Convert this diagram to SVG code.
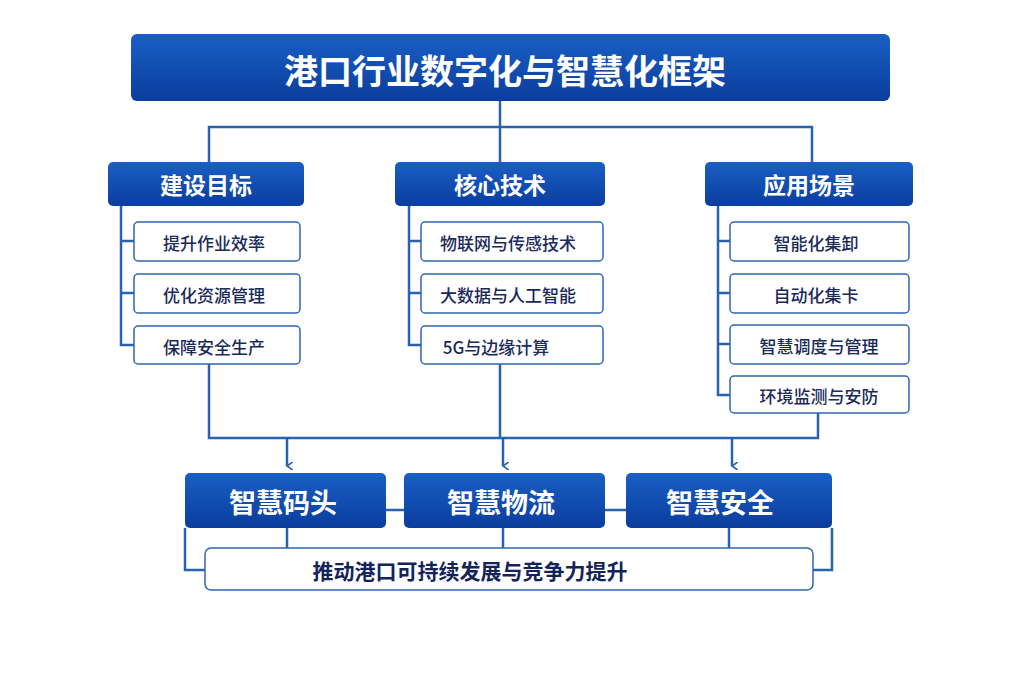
<svg xmlns="http://www.w3.org/2000/svg" width="1024" height="683" viewBox="0 0 1024 683">
<defs>
<linearGradient id="bg" x1="0" y1="0" x2="0" y2="1"><stop offset="0" stop-color="#1a5fc4"/><stop offset="1" stop-color="#0a3d9e"/></linearGradient>
<marker id="ar" viewBox="0 0 10 10" refX="5" refY="9" markerWidth="8" markerHeight="8" orient="auto-start-reverse" markerUnits="userSpaceOnUse"><path d="M0,2 L5,9 L10,2" fill="none" stroke="#2a62ad" stroke-width="2"/></marker>
</defs>
<style>
.b{fill:url(#bg)}
.w{fill:#fff;stroke:#2f66b0;stroke-width:1.5}
.t{font-family:"Noto Sans CJK SC","Noto Sans",sans-serif;text-anchor:middle;dominant-baseline:central}
.h{fill:#fff;font-weight:700}
.s{fill:#1a2a5a;font-size:17px;font-weight:500}
.c{fill:none;stroke:#2a62ad;stroke-width:2.5}
</style>
<rect width="1024" height="683" fill="#fff"/>
<g id="connectors" class="c">
<path d="M500,101 V127 M209,162 V127 H812 V162 M500,127 V162"/>
<path d="M121,206 V345 H134 M121,241 H134 M121,293 H134"/>
<path d="M409,206 V345 H421 M409,241 H421 M409,293 H421"/>
<path d="M718,206 V395 H730 M718,241 H730 M718,293 H730 M718,344 H730"/>
<path d="M209,364 V438 H818 V413 M500,364 V438"/>
<path d="M287,438 V466" marker-end="url(#ar)"/>
<path d="M503,438 V466" marker-end="url(#ar)"/>
<path d="M732,438 V466" marker-end="url(#ar)"/>
<path d="M386,510 H404 M605,510 H626"/>
<path d="M287,528 V548 M503,528 V548 M729,528 V548 M185,528 V570 H205 M832,528 V570 H813"/>
</g>
<g id="title"><rect class="b" x="131" y="34" width="759" height="67" rx="6"/><text class="t h" x="505" y="69" font-size="34">港口行业数字化与智慧化框架</text></g>
<g id="h1"><rect class="b" x="108" y="162" width="196" height="44" rx="5"/><text class="t h" x="206" y="184" font-size="23">建设目标</text></g>
<g id="h2"><rect class="b" x="395" y="162" width="210" height="44" rx="5"/><text class="t h" x="500" y="184" font-size="23">核心技术</text></g>
<g id="h3"><rect class="b" x="705" y="162" width="208" height="44" rx="5"/><text class="t h" x="809" y="184" font-size="23">应用场景</text></g>
<g id="a1"><rect class="w" x="134" y="222" width="166" height="39" rx="4"/><text class="t s" x="214" y="242">提升作业效率</text></g>
<g id="a2"><rect class="w" x="134" y="274" width="166" height="39" rx="4"/><text class="t s" x="214" y="294">优化资源管理</text></g>
<g id="a3"><rect class="w" x="134" y="326" width="166" height="38" rx="4"/><text class="t s" x="214" y="346">保障安全生产</text></g>
<g id="b1"><rect class="w" x="421" y="222" width="182" height="39" rx="4"/><text class="t s" x="508" y="242">物联网与传感技术</text></g>
<g id="b2"><rect class="w" x="421" y="274" width="182" height="39" rx="4"/><text class="t s" x="508" y="294">大数据与人工智能</text></g>
<g id="b3"><rect class="w" x="421" y="326" width="182" height="38" rx="4"/><text class="t s" x="496" y="346">5G与边缘计算</text></g>
<g id="c1"><rect class="w" x="730" y="222" width="179" height="39" rx="4"/><text class="t s" x="816" y="242">智能化集卸</text></g>
<g id="c2"><rect class="w" x="730" y="274" width="179" height="39" rx="4"/><text class="t s" x="816" y="294">自动化集卡</text></g>
<g id="c3"><rect class="w" x="730" y="325" width="179" height="39" rx="4"/><text class="t s" x="819" y="345">智慧调度与管理</text></g>
<g id="c4"><rect class="w" x="730" y="376" width="179" height="37" rx="4"/><text class="t s" x="819" y="395">环境监测与安防</text></g>
<g id="d1"><rect class="b" x="185" y="473" width="201" height="55" rx="5"/><text class="t h" x="283" y="501" font-size="27">智慧码头</text></g>
<g id="d2"><rect class="b" x="404" y="473" width="201" height="55" rx="5"/><text class="t h" x="501" y="501" font-size="27">智慧物流</text></g>
<g id="d3"><rect class="b" x="626" y="473" width="206" height="55" rx="5"/><text class="t h" x="720" y="501" font-size="27">智慧安全</text></g>
<g id="goal"><rect class="w" x="205" y="548" width="608" height="42" rx="6"/><text class="t" x="470" y="570" font-size="21" font-weight="700" fill="#14245a">推动港口可持续发展与竞争力提升</text></g>
</svg>
